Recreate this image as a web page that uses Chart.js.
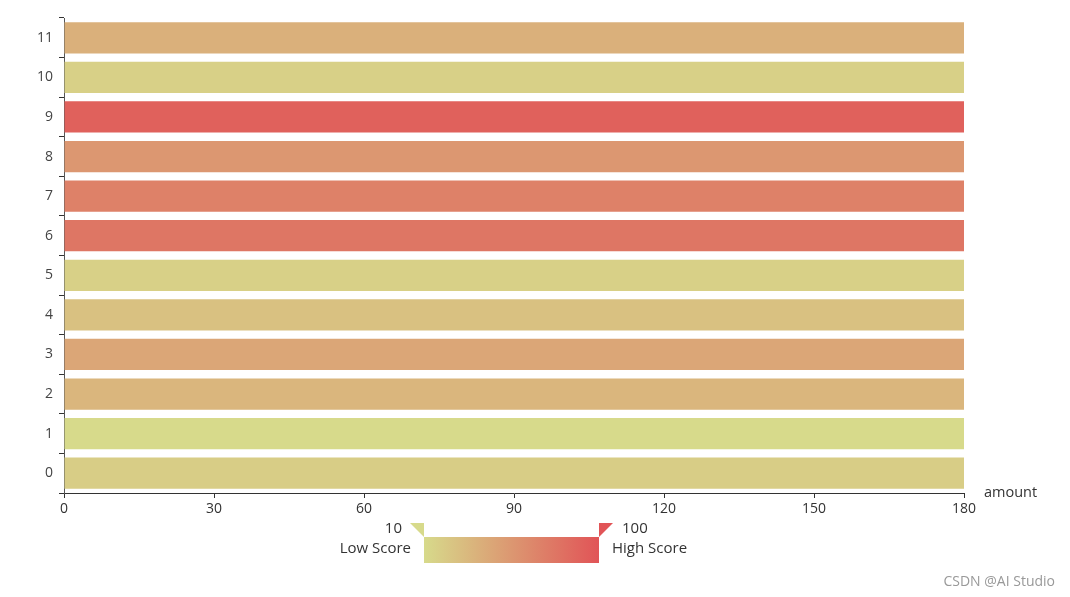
<!DOCTYPE html>
<html>
<head>
<meta charset="utf-8">
<script src="https://cdn.jsdelivr.net/npm/chart.js@4/dist/chart.umd.min.js"></script>
<style>
  html, body { margin: 0; padding: 0; background: #fff; }
  #wrap { width: 1070px; height: 597px; position: relative; }
</style>
</head>
<body>
<div id="wrap"><canvas id="scoreChart"></canvas></div>
<script>
// ========== DATA ==========
const categories = ['0', '1', '2', '3', '4', '5', '6', '7', '8', '9', '10', '11'];
const amounts = [180, 180, 180, 180, 180, 180, 180, 180, 180, 180, 180, 180];
const scores = [19, 10, 34, 45, 27, 17, 77, 70, 55, 91, 17, 38];
const xTicks = [0, 30, 60, 90, 120, 150, 180];
const scoreRange = [10, 100];
const rangeText = ['Low Score', 'High Score'];

const LOW = [215, 218, 139];
const HIGH = [225, 84, 87];
const FONT = '"Open Sans", sans-serif';

function scoreColor(s) {
  const t = Math.max(0, Math.min(1, (s - scoreRange[0]) / (scoreRange[1] - scoreRange[0])));
  const c = LOW.map((v, i) => Math.round(v + (HIGH[i] - v) * t));
  return `rgb(${c[0]},${c[1]},${c[2]})`;
}

// ========== EXTRA DRAWING (visual map, axis name, watermark) ==========
const overlay = {
  id: 'overlay',
  afterDraw(chart) {
    const ctx = chart.ctx;
    const area = chart.chartArea;
    ctx.save();

    // axis name
    ctx.fillStyle = '#333';
    ctx.font = '14.5px ' + FONT;
    ctx.textAlign = 'left';
    ctx.textBaseline = 'middle';
    ctx.fillText('amount', area.right + 20, area.bottom);

    // visual map gradient bar
    const x0 = 424, x1 = 599, y0 = 537, y1 = 563;
    const g = ctx.createLinearGradient(x0, 0, x1, 0);
    g.addColorStop(0, scoreColor(scoreRange[0]));
    g.addColorStop(1, scoreColor(scoreRange[1]));
    ctx.fillStyle = g;
    ctx.fillRect(x0, y0, x1 - x0, y1 - y0);

    // handles
    ctx.fillStyle = scoreColor(scoreRange[0]);
    ctx.beginPath();
    ctx.moveTo(x0 - 14, y0 - 14);
    ctx.lineTo(x0, y0 - 14);
    ctx.lineTo(x0, y0);
    ctx.closePath();
    ctx.fill();
    ctx.fillStyle = scoreColor(scoreRange[1]);
    ctx.beginPath();
    ctx.moveTo(x1, y0 - 14);
    ctx.lineTo(x1 + 14, y0 - 14);
    ctx.lineTo(x1, y0);
    ctx.closePath();
    ctx.fill();

    ctx.fillStyle = '#333';
    ctx.font = '15px ' + FONT;
    ctx.textAlign = 'right';
    ctx.fillText(String(scoreRange[0]), 402, 529);
    ctx.fillText(rangeText[0], 411, 549);
    ctx.textAlign = 'left';
    ctx.fillText(String(scoreRange[1]), 622, 529);
    ctx.fillText(rangeText[1], 612, 549);

    // watermark
    ctx.fillStyle = '#999';
    ctx.font = '14px ' + FONT;
    ctx.textAlign = 'right';
    ctx.fillText('CSDN @AI Studio', 1055, 582);
    ctx.restore();
  }
};

// ========== CHART ==========
function initScoreChart() {
  const el = document.getElementById('scoreChart');
  new Chart(el.getContext('2d'), {
    type: 'bar',
    data: {
      labels: categories,
      datasets: [{
        label: 'amount',
        data: amounts,
        backgroundColor: scores.map(scoreColor),
        borderWidth: 0,
        barPercentage: 0.79,
        categoryPercentage: 1
      }]
    },
    plugins: [overlay],
    options: {
      indexAxis: 'y',
      responsive: true,
      maintainAspectRatio: false,
      animation: false,
      layout: { padding: { top: 18, right: 106, bottom: 0, left: 0 } },
      plugins: {
        legend: { display: false },
        tooltip: { enabled: false }
      },
      scales: {
        x: {
          type: 'linear',
          min: 0,
          max: 180,
          afterBuildTicks: axis => { axis.ticks = xTicks.map(v => ({ value: v })); },
          afterFit: axis => { axis.height = 104; },
          border: { display: true, color: '#333', width: 1 },
          grid: { drawOnChartArea: false, drawTicks: true, tickLength: 5, color: '#333' },
          ticks: { color: '#333', padding: 3, font: { family: FONT, size: 14 } }
        },
        y: {
          reverse: true,
          offset: true,
          afterFit: axis => { axis.width = 64; },
          border: { display: true, color: '#555', width: 1 },
          grid: { offset: true, drawOnChartArea: false, drawTicks: true, tickLength: 5, color: '#333' },
          ticks: { color: '#444', padding: 6, font: { family: FONT, size: 14 } }
        }
      }
    }
  });
}

initScoreChart();
</script>
</body>
</html>
